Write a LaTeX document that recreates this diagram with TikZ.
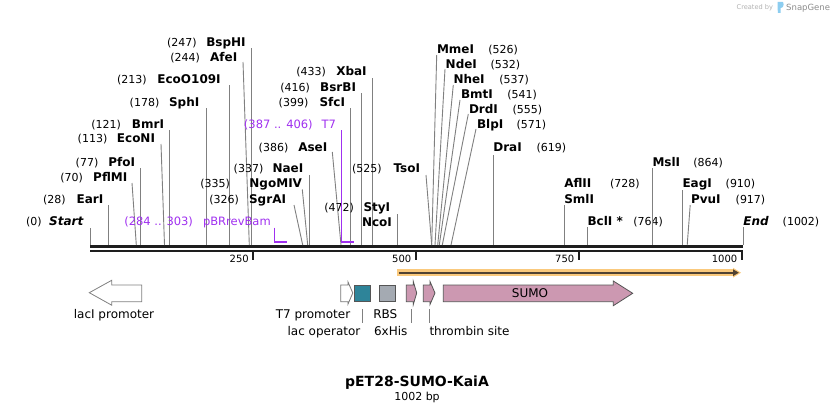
\documentclass[tikz,border=0pt]{standalone}
\usepackage{fontspec}
\setmainfont{DejaVu Sans}
\definecolor{cutgray}{RGB}{128,128,128}
\definecolor{mapblack}{RGB}{30,30,30}
\definecolor{primer}{RGB}{160,48,240}
\definecolor{orfout}{RGB}{250,201,124}
\definecolor{orfin}{RGB}{80,66,50}
\definecolor{featpink}{RGB}{204,152,177}
\definecolor{featteal}{RGB}{46,132,153}
\definecolor{featgray}{RGB}{164,170,178}
\definecolor{featline}{RGB}{85,85,85}
\definecolor{sglogo}{RGB}{140,205,240}
\newcommand\sname[1]{{\fontsize{12}{14}\selectfont\bfseries #1}}
\newcommand\snum[1]{{\fontsize{11}{13}\selectfont #1}}
\newcommand\plab[1]{{\fontsize{11.5}{13}\selectfont #1}}
% #1 id, #2 map x, #3 top x, #4 top y, #5 name end x, #6 label y, #7 number, #8 name, #9 number end x
\newcommand\enzL[9]{%
  \coordinate (#1-b) at (#2,245);
  \coordinate (#1-t) at (#3,#4);
  \node[site, anchor=base east] (#1) at (#5,{#6+4.4}) {\sname{#8}};
  \node[site, anchor=base east] (#1-n) at (#9,{#6+4.4}) {\snum{#7}};
  \draw[cut] (#1-b) -- (#1-t);
}
% #9 number start x
\newcommand\enzR[9]{%
  \coordinate (#1-b) at (#2,245);
  \coordinate (#1-t) at (#3,#4);
  \node[site, anchor=base west] (#1) at (#5,{#6+4.4}) {\sname{#8}};
  \node[site, anchor=base west] (#1-n) at (#9,{#6+4.4}) {\snum{#7}};
  \draw[cut] (#1-b) -- (#1-t);
}
\begin{document}
\begin{tikzpicture}[x=1pt,y=-1pt,
  cut/.style={draw=cutgray, line width=0.9pt},
  site/.style={inner sep=0pt, outer sep=0pt, text=black},
  tickmark/.style={draw=mapblack, line width=2pt},
  ticklab/.style={inner sep=0pt, anchor=base east, font=\fontsize{10}{12}\selectfont},
  primerline/.style={draw=primer, line width=1.6pt},
  feat/.style={draw=featline, line width=0.8pt},
  featlab/.style={inner sep=0pt, font=\fontsize{12}{14}\selectfont},
  flink/.style={draw=cutgray, line width=0.8pt}]
\useasboundingbox (0,0) rectangle (834,412);
\fill[white] (0,0) rectangle (834,412);

% ---------- Created by SnapGene ----------
\node[inner sep=0pt, anchor=base west, text=black!30, font=\fontsize{6.6}{8}\selectfont] (cby) at (736.5,10) {Created by};
\fill[sglogo] (777.5,2) -- (782.5,2) .. controls (784,2) and (784,7) .. (782,7.5) -- (780.5,8) -- (780.5,13) -- (778,13) -- (777.5,8) -- cycle;
\node[inner sep=0pt, anchor=base west, text=black!45, font=\fontsize{8.5}{10}\selectfont] (sg) at (786,11) {SnapGene};

% ---------- map line ----------
\coordinate (m0) at (90,246.3);
\coordinate (m1) at (743,246.3);
\coordinate (n0) at (90,251);
\coordinate (n1) at (743,251);
\draw[mapblack, line width=2.6pt] (m0) -- (m1);
\draw[mapblack, line width=2.2pt] (n0) -- (n1);

% ticks
\foreach \tx/\tl in {253/250, 415.5/500, 578.5/750, 741.5/1000}{
  \coordinate (tk\tl) at (\tx,252);
  \coordinate (tke\tl) at (\tx,259.5);
  \draw[tickmark] (tk\tl) -- (tke\tl);
  \node[ticklab] (tl\tl) at (\tx-4,262) {\tl};
}

% ---------- left-labelled sites ----------
\enzL{start}{90}{90}{228}{83.3}{221.5}{(0)}{\itshape Start}{41.7}
\enzL{earI}{108.2}{108.2}{205}{103.3}{199.3}{(28)}{EarI}{65.7}
\enzL{pflMI}{136.3}{132}{183}{127.3}{176.7}{(70)}{PflMI}{83}
\enzL{pfoI}{140.2}{140.2}{168}{135}{161.7}{(77)}{PfoI}{98.3}
\enzL{ecoNI}{164.5}{161}{144}{155}{138.3}{(113)}{EcoNI}{107.3}
\enzL{bmrI}{169.5}{169.5}{130}{164}{124.3}{(121)}{BmrI}{121}
\enzL{sphI}{206.5}{206.5}{108}{199.3}{101.7}{(178)}{SphI}{159.3}
\enzL{ecoO}{229.5}{229.5}{85}{220.7}{79.3}{(213)}{EcoO109I}{146.7}
\enzL{afeI}{249.3}{243}{62}{237.3}{57.3}{(244)}{AfeI}{200}
\enzL{bspHI}{251}{251}{48}{245.7}{42}{(247)}{BspHI}{196.7}
\enzL{sgrAI}{302.7}{294}{205}{286}{199}{(326)}{SgrAI}{239}
\enzL{ngoMIV}{307.7}{302.3}{189.5}{302}{183.3}{(335)}{NgoMIV}{230}
\enzL{naeI}{309.4}{309.4}{175}{303.3}{168.5}{(337)}{NaeI}{263.3}
\enzL{aseI}{341}{332.3}{152}{327.3}{146.7}{(386)}{AseI}{288.3}
\enzL{sfcI}{350.3}{350.3}{108}{345}{102}{(399)}{SfcI}{308.3}
\enzL{bsrBI}{361.5}{361.5}{93}{356}{86.7}{(416)}{BsrBI}{310}
\enzL{xbaI}{372.3}{372.3}{78}{366.7}{71.5}{(433)}{XbaI}{326}
\enzL{tsoI}{431.7}{426}{175}{420}{168.5}{(525)}{TsoI}{381.7}

% StyI / NcoI
\coordinate (styI-b) at (397.4,245);
\coordinate (styI-t) at (397.4,214);
\node[site, anchor=base west] (styI) at (363.5,{206.7+4.4}) {\sname{StyI}};
\node[site, anchor=base east] (styI-n) at (354,{206.7+4.4}) {\snum{(472)}};
\node[site, anchor=base west] (ncoI) at (362,{221.7+4.4}) {\sname{NcoI}};
\draw[cut] (styI-b) -- (styI-t);

% ---------- right-labelled sites ----------
\enzR{mmeI}{431.7}{436.7}{55}{437}{49}{(526)}{MmeI}{488.3}
\enzR{ndeI}{435}{445}{69}{445.7}{64}{(532)}{NdeI}{490.7}
\enzR{nheI}{437.7}{453.3}{85}{453.5}{79}{(537)}{NheI}{499.3}
\enzR{bmtI}{439.3}{460}{100}{461}{94}{(541)}{BmtI}{507.3}
\enzR{drdI}{442.3}{468.3}{114}{469}{109}{(555)}{DrdI}{512.7}
\enzR{blpI}{451}{476}{129}{477}{124}{(571)}{BlpI}{516.7}
\enzR{draI}{493.3}{493.3}{155}{493.3}{146.7}{(619)}{DraI}{536.7}
\enzR{aflII}{564.3}{564.3}{205}{564.3}{183.5}{(728)}{AflII}{610}
\node[site, anchor=base west] (smlI) at (564.3,{199+4.4}) {\sname{SmlI}};
\enzR{bclI}{587.7}{587.7}{227}{587.5}{221.5}{(764)}{BclI *}{633.3}
\enzR{mslI}{652.5}{652.5}{168}{652.5}{162}{(864)}{MslI}{693.3}
\enzR{eagI}{682.3}{682.3}{190}{682.5}{183.5}{(910)}{EagI}{725.7}
\enzR{pvuI}{687.2}{690.2}{205}{691}{199.3}{(917)}{PvuI}{735.7}
\enzR{endS}{743.3}{743.3}{227}{743.3}{221.5}{(1002)}{\itshape End}{782.7}

% ---------- primers ----------
\coordinate (pbr-t) at (274.3,227.5);
\coordinate (pbr-c) at (274.3,242);
\coordinate (pbr-e) at (287,242);
\draw[primerline] (pbr-t) -- (pbr-c) -- (pbr-e);
\node[site, anchor=base east, text=primer] (pbr) at (270.7,{221.5+4.2}) {\plab{pBRrevBam}};
\node[site, anchor=base east, text=primer] (pbr-n) at (193,{221.5+4.2}) {\plab{(284 .. 303)}};

\coordinate (t7p-t) at (341.3,130);
\coordinate (t7p-c) at (341.3,242);
\coordinate (t7p-e) at (354,242);
\draw[primerline] (t7p-t) -- (t7p-c) -- (t7p-e);
\node[site, anchor=base east, text=primer] (t7p) at (336,{124+4.2}) {\plab{T7}};
\node[site, anchor=base east, text=primer] (t7p-n) at (312.7,{124+4.2}) {\plab{(387 .. 406)}};

% ---------- ORF ----------
\fill[orfout] (396.7,269.4) rectangle (735,276);
\fill[orfout] (733,267.8) -- (741,272.7) -- (733,277.6) -- cycle;
\coordinate (orf-s) at (398.5,272.7);
\coordinate (orf-e) at (734.5,272.7);
\draw[orfin, line width=2pt] (orf-s) -- (orf-e);
\fill[orfin] (733,269.3) -- (738.8,272.7) -- (733,276.1) -- cycle;

% ---------- features ----------
% lacI promoter (left)
\draw[draw=cutgray, line width=0.8pt, fill=white] (89.3,292.7) -- (111.7,280.3) -- (111.7,285) -- (141.7,285) -- (141.7,301.7) -- (111.7,301.7) -- (111.7,305.2) -- cycle;
\node[featlab, anchor=base] (lacIlab) at (114,318.5) {lacI promoter};

% T7 promoter
\draw[feat, draw=featline!80, fill=white] (340.8,285) -- (348,285) -- (348,282) -- (352.8,293) -- (348,304) -- (348,301.7) -- (340.8,301.7) -- cycle;
\node[featlab, anchor=base] (t7lab) at (313,318.5) {T7 promoter};

% lac operator
\draw[feat, fill=featteal] (354,285) rectangle (370.7,301.7);
\coordinate (lacop-a) at (362.3,309.3);
\coordinate (lacop-b) at (362.3,323.3);
\draw[flink] (lacop-a) -- (lacop-b);
\node[featlab, anchor=base] (lacoplab) at (324,335) {lac operator};

% RBS
\draw[feat, fill=featgray] (379.3,285) rectangle (395,301.7);
\node[featlab, anchor=base] (rbslab) at (385.3,318.5) {RBS};

% 6xHis
\draw[feat, fill=featpink] (406.3,285) -- (413.3,285) -- (413.3,281.5) -- (416.7,293) -- (413.3,304.5) -- (413.3,301.7) -- (406.3,301.7) -- cycle;
\coordinate (his-a) at (411,309.3);
\coordinate (his-b) at (411,323.3);
\draw[flink] (his-a) -- (his-b);
\node[featlab, anchor=base] (hislab) at (390.7,335) {6xHis};

% thrombin site
\draw[feat, fill=featpink] (423.3,285) -- (430,285) -- (430,281.5) -- (435,293) -- (430,304.5) -- (430,301.7) -- (423.3,301.7) -- cycle;
\coordinate (thr-a) at (429.3,309.3);
\coordinate (thr-b) at (429.3,323.3);
\draw[flink] (thr-a) -- (thr-b);
\node[featlab, anchor=base west] (thrlab) at (429.3,335) {thrombin site};

% SUMO
\draw[feat, fill=featpink] (443.3,285) -- (613.3,285) -- (613.3,281) -- (632.7,293.3) -- (613.3,305.7) -- (613.3,301.7) -- (443.3,301.7) -- cycle;
\node[featlab, anchor=base] (sumolab) at (530,297.2) {SUMO};

% ---------- title ----------
\node[inner sep=0pt, anchor=base, font=\fontsize{14}{16}\selectfont\bfseries] (title) at (417,386.5) {pET28-SUMO-KaiA};
\node[inner sep=0pt, anchor=base, font=\fontsize{11}{13}\selectfont] (bp) at (417,400) {1002 bp};
\end{tikzpicture}
\end{document}
